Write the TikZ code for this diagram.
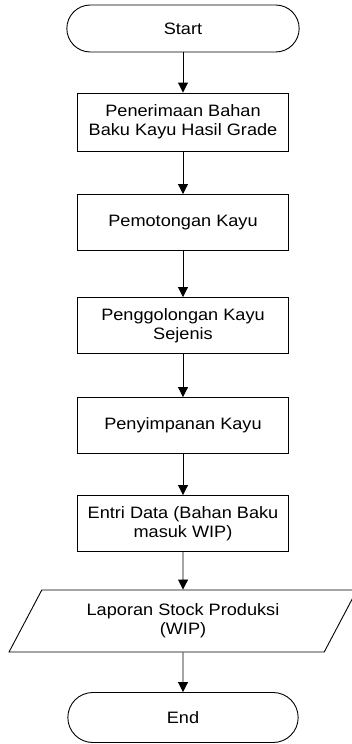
\documentclass[tikz,border=0pt]{standalone}
\usepackage{fontspec}
\setmainfont{Liberation Sans}[FakeStretch=1.1]
\usetikzlibrary{shapes.misc,shapes.geometric,arrows.meta}
\begin{document}
\begin{tikzpicture}[x=1pt, y=-1pt, >={Triangle[width=10pt,length=10pt]},
    every node/.style={font=\fontsize{16.5}{19}\selectfont, align=center},
    terminal/.style={draw, line width=0.9pt, rounded rectangle, minimum width=239pt, minimum height=47pt},
    proses/.style={draw, line width=0.9pt, rectangle, minimum width=211pt, minimum height=56pt},
    laporan/.style={draw, line width=0.9pt, trapezium, trapezium left angle=60.6, trapezium right angle=119.4,
        trapezium stretches=true, minimum width=349pt, minimum height=62pt}]
    \useasboundingbox (0,0) rectangle (352,744);

    % Mulai
    \node[terminal] (start) at (183,28.5) {Start};

    % Proses
    \node[proses, minimum height=58pt] (terima) at (183,122) {Penerimaan Bahan\\Baku Kayu Hasil Grade};
    \node[proses] (potong) at (183,222.5) {Pemotongan Kayu};
    \node[proses] (golong) at (183,325.5) {Penggolongan Kayu\\Sejenis};
    \node[proses] (simpan) at (183,425.5) {Penyimpanan Kayu};
    \node[proses] (entri) at (183,523.5) {Entri Data (Bahan Baku\\masuk WIP)};

    % Laporan
    \node[laporan] (lapor) at (183,621) {Laporan Stock Produksi\\(WIP)};

    % Selesai
    \node[terminal, minimum width=237pt, minimum height=50pt] (end) at (183,717.5) {End};

    \draw[->, line width=0.9pt] (start.south) -- (terima.north);
    \draw[->, line width=0.9pt] (terima.south) -- (potong.north);
    \draw[->, line width=0.9pt] (potong.south) -- (golong.north);
    \draw[->, line width=0.9pt] (golong.south) -- (simpan.north);
    \draw[->, line width=0.9pt] (simpan.south) -- (entri.north);
    \draw[->, line width=0.9pt] (entri.south) -- (lapor.north);
    \draw[->, line width=0.9pt] (lapor.south) -- (end.north);
\end{tikzpicture}
\end{document}
